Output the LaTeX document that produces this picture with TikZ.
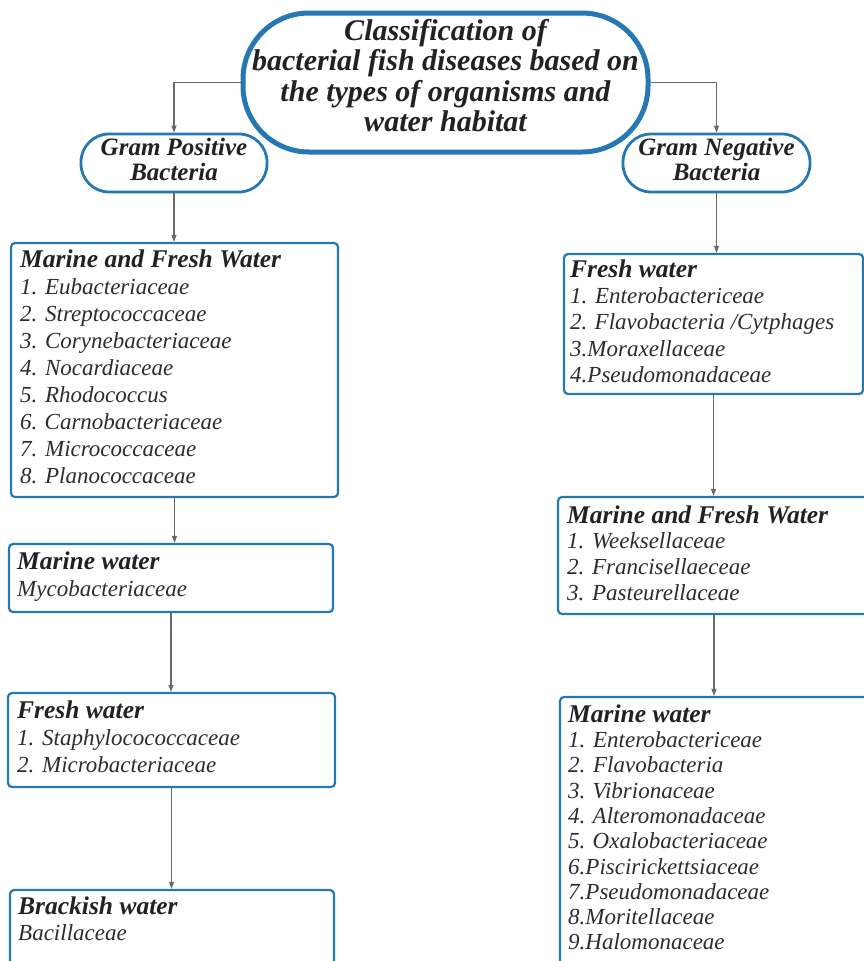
\documentclass[tikz,border=0pt]{standalone}
\usepackage{fontspec}
\setmainfont{Liberation Serif}
\usetikzlibrary{arrows.meta}
\definecolor{bblue}{RGB}{38,120,178}
\definecolor{conncol}{RGB}{105,105,105}
\definecolor{txt}{RGB}{34,34,34}
\definecolor{itemtxt}{RGB}{45,45,45}
\begin{document}
\begin{tikzpicture}[x=1pt,y=-1pt,
  topnode/.style={draw=bblue, line width=5pt, rounded corners=66pt, minimum width=405pt, minimum height=139pt, inner sep=0pt, align=center, text=txt, font=\fontsize{30}{28}\selectfont\bfseries\itshape},
  gramnode/.style={draw=bblue, line width=2.8pt, rounded corners=28pt, minimum height=58pt, inner sep=0pt, align=center, text=txt, font=\fontsize{25}{25}\selectfont\bfseries\itshape},
  habbox/.style={draw=bblue, line width=2.2pt, rounded corners=4pt, inner sep=0pt},
  habtext/.style={anchor=north west, inner sep=0pt, align=left, text=itemtxt, font=\fontsize{23}{#1}\selectfont\itshape},
  conn/.style={draw=conncol, line width=1.1pt, -{Triangle[length=7pt,width=5pt]}},
]
\fill[white] (0,0) rectangle (864,961);
\clip (0,0) rectangle (864,961);
\useasboundingbox (0,0) rectangle (864,961);
\newcommand{\ttl}[1]{{\fontsize{25.5}{27}\selectfont\bfseries\color{txt}#1}}

% top node
\node[topnode] (top) at (445.5,82.5) {\strut Classification of\\ \strut bacterial fish diseases based on\\ \strut the types of organisms and\\ \strut water habitat\rule[-14.6pt]{0pt}{0pt}};

% gram nodes
\node[gramnode, minimum width=186pt] (gp) at (174,163) {\strut Gram Positive\\ \strut Bacteria};
\node[gramnode, minimum width=187pt] (gn) at (716.5,163) {\strut Gram Negative\\ \strut Bacteria};

% left boxes
\node[habbox, minimum width=327pt, minimum height=254pt] (b1) at (174.5,370) {};
\node[habbox, minimum width=324pt, minimum height=68pt] (b2) at (171,578) {};
\node[habbox, minimum width=327pt, minimum height=94pt] (b3) at (171.5,740) {};
\node[habbox, minimum width=324pt, minimum height=90pt] (b4) at (172,935) {};

% right boxes
\node[habbox, minimum width=299pt, minimum height=140pt] (r1) at (713.5,324) {};
\node[habbox, minimum width=312pt, minimum height=117pt] (r2) at (714,555.5) {};
\node[habbox, minimum width=308pt, minimum height=288pt] (r3) at (714,841) {};

% texts
\node[habtext=27] (t1) at (20,248.1) {\strut\ttl{Marine and Fresh Water}\\
\strut 1. Eubacteriaceae\\
\strut 2. Streptococcaceae\\
\strut 3. Corynebacteriaceae\\
\strut 4. Nocardiaceae\\
\strut 5. Rhodococcus\\
\strut 6.\kern1.5pt\ Carnobacteriaceae\\
\strut 7. Micrococcaceae\\
\strut 8. Planococcaceae};

\node[habtext=27] (t2) at (17,550.1) {\strut\ttl{Marine water}\\
\strut Mycobacteriaceae};

\node[habtext=27] (t3) at (17,699.1) {\strut\ttl{Fresh water}\\
\strut 1. Staphylocococcaceae\\
\strut 2. Microbacteriaceae};

\node[habtext=26] (t4) at (18,895.8) {\strut\ttl{Brackish water}\\
\strut Bacillaceae};

\node[habtext=26.3] (t5) at (570,258.6) {\strut\ttl{Fresh water}\\
\strut 1. Enterobactericeae\\
\strut 2.\kern1.5pt\ Flavobacteria /Cytphages\\
\strut 3.Moraxellaceae\\
\strut 4.Pseudomonadaceae};

\node[habtext=25.7] (t6) at (567,505) {\strut\ttl{Marine and Fresh Water}\\
\strut 1. Weeksellaceae\\
\strut 2. Francisellaeceae\\
\strut 3. Pasteurellaceae};

\node[habtext=25.3] (t7) at (568,704.3) {\strut\ttl{Marine water}\\
\strut 1. Enterobactericeae\\
\strut 2. Flavobacteria\\
\strut 3.\kern1.5pt\ Vibrionaceae\\
\strut 4.\kern1.5pt\ Alteromonadaceae\\
\strut 5.\kern1.5pt\ Oxalobacteriaceae\\
\strut 6.Piscirickettsiaceae\\
\strut 7.Pseudomonadaceae\\
\strut 8.Moritellaceae\\
\strut 9.Halomonaceae};

% connectors
\draw[conn] (top.west) -| (gp.north);
\draw[conn] (top.east) -| (gn.north);
\draw[conn] (gp.south) -- (gp.south |- b1.north);
\draw[conn] (b1.south) -- (b1.south |- b2.north);
\draw[conn] (b2.south) -- (b2.south |- b3.north);
\draw[conn] (b3.south) -- (b3.south |- b4.north);
\draw[conn] (gn.south) -- (gn.south |- r1.north);
\draw[conn] (r1.south) -- (r1.south |- r2.north);
\draw[conn] (r2.south) -- (r2.south |- r3.north);
\end{tikzpicture}
\end{document}
